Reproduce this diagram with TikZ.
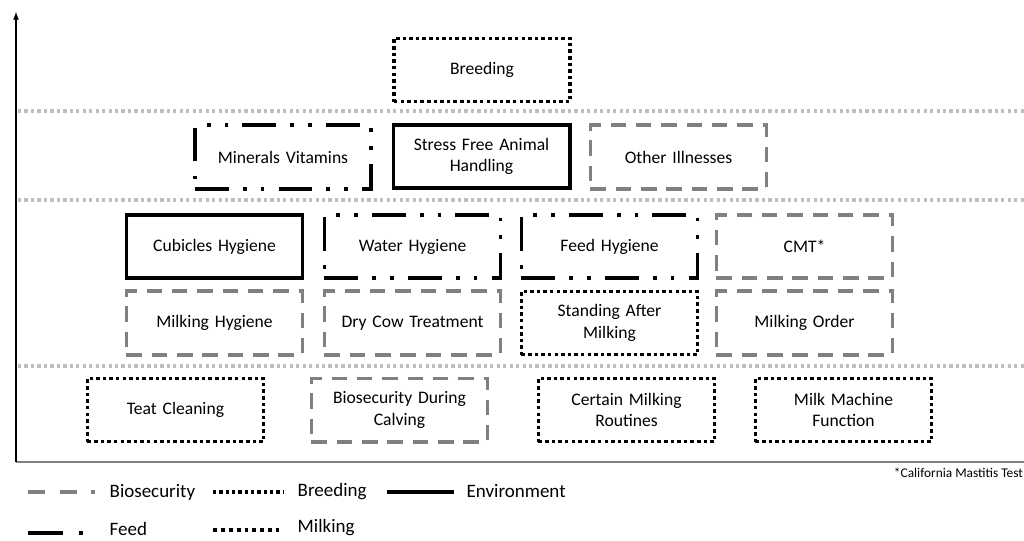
\documentclass[tikz,border=0pt]{standalone}
\usepackage{fontspec}
\setmainfont{Carlito}
\usepackage{xcolor}
\usepackage{tikz}
\usetikzlibrary{shapes,arrows,positioning}

\definecolor{biogray}{HTML}{7F7F7F}
\definecolor{sepgray}{HTML}{BFBFBF}

\tikzset{
  box/.style={rectangle, draw, minimum width=4.4cm, minimum height=1.58cm, text width=4cm, align=center, font=\fontsize{12.5}{15.5}\selectfont},
  biobox/.style={box, draw=biogray, line width=2.7pt, dash pattern=on 11pt off 7pt},
  breedbox/.style={box, line width=2.5pt, dash pattern=on 2.5pt off 2.2pt},
  envbox/.style={box, line width=2.8pt},
  feedbox/.style={box, line width=2.7pt, dash pattern=on 24pt off 10pt on 2.7pt off 10pt on 2.7pt off 10pt},
  milkbox/.style={box, line width=2.5pt, dash pattern=on 2.5pt off 2.2pt},
  levelline/.style={draw=sepgray, line width=2.3pt, dash pattern=on 2.3pt off 2.3pt},
  legendtext/.style={anchor=west, inner sep=1pt, font=\fontsize{13.5}{16}\selectfont}
}

\begin{document}
\begin{tikzpicture}[x=0.025cm, y=-0.025cm]
\useasboundingbox (0,0) rectangle (1024,540);
\clip (0,0) rectangle (1024,540);

% axes and level lines
\coordinate (origin) at (16,462);
\coordinate (top) at (16,12);
\coordinate (right) at (1024,462);
\draw[biogray, line width=1.8pt] (origin) -- (right);
\draw[-latex, line width=0.9pt] (origin) -- (top);
\foreach \y in {111,200,366} {
  \draw[levelline] (18,\y) -- (1024,\y);
}

% top level
\node[breedbox] (breeding) at (482,70) {Breeding};

% second level
\node[feedbox] (minerals) at (283,157) {Minerals Vitamins};
\node[envbox] (stress) at (481.5,156.5) {Stress Free Animal\\Handling};
\node[biobox] (illness) at (678.5,157) {Other Illnesses};

% third level
\node[envbox] (cubicles) at (214.5,246.5) {Cubicles Hygiene};
\node[feedbox] (water) at (412.5,246.5) {Water Hygiene};
\node[feedbox] (feedhyg) at (609.5,246.5) {Feed Hygiene};
\node[biobox] (cmt) at (804.5,246.5) {CMT*};

\node[biobox] (milkhyg) at (214.5,323) {Milking Hygiene};
\node[biobox] (drycow) at (412.5,323) {Dry Cow Treatment};
\node[milkbox] (standing) at (609.5,323) {Standing After\\Milking};
\node[biobox] (order) at (804.5,323) {Milking Order};

% bottom level
\node[milkbox] (teat) at (175.5,410) {Teat Cleaning};
\node[biobox] (calving) at (399.5,410) {Biosecurity During\\Calving};
\node[milkbox] (routines) at (626.5,410) {Certain Milking\\Routines};
\node[milkbox] (machine) at (843.5,410) {Milk Machine\\Function};

\node[anchor=west, font=\fontsize{9.5}{11}\selectfont] (note) at (889,473) {*California Mastitis Test};

% legend
\draw[biogray, line width=2.7pt, dash pattern=on 12pt off 10.5pt] (28,492) -- (95,492);
\node[legendtext] (lbio) at (108,492) {Biosecurity};
\draw[line width=2.3pt, dash pattern=on 2.3pt off 2.2pt] (213,492) -- (283,492);
\node[legendtext] (lbreed) at (296,492) {Breeding};
\draw[line width=2.8pt] (387,492) -- (454,492);
\node[legendtext] (lenv) at (465,491) {Environment};
\draw[line width=2.8pt, dash pattern=on 25pt off 11pt on 3pt off 10pt] (28,533) -- (84,533);
\node[legendtext] (lfeed) at (108,529) {Feed};
\draw[line width=2.8pt, dash pattern=on 2.8pt off 2.8pt] (213,530) -- (279,530);
\node[legendtext] (lmilk) at (296,528) {Milking};
\end{tikzpicture}
\end{document}
